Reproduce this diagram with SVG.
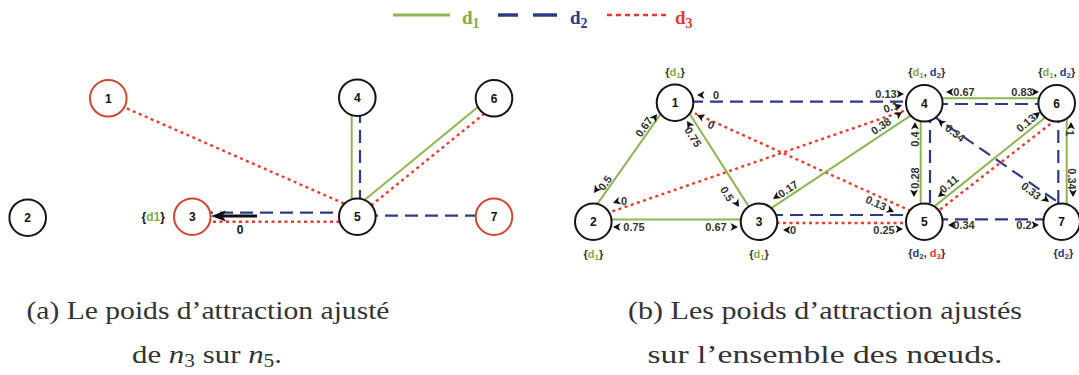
<svg xmlns="http://www.w3.org/2000/svg" xmlns:xlink="http://www.w3.org/1999/xlink" width="1079" height="375" viewBox="0 0 1079 375">
<style>
.g{stroke:#8DB652;stroke-width:2;fill:none}
.b{stroke:#2E3A87;stroke-width:2.2;stroke-dasharray:13 7;fill:none}
.r{stroke:#EE3B2B;stroke-width:2.4;stroke-dasharray:3 3.5;fill:none}
.nc{fill:#fff;stroke:#151515;stroke-width:2}
.nr{fill:#fff;stroke:#D2452F;stroke-width:2}
.nl{font-family:"Liberation Sans",Arial,sans-serif;font-weight:bold;font-size:12px;fill:#111;text-anchor:middle}
.el{font-family:"Liberation Sans",Arial,sans-serif;font-weight:bold;font-size:11px;fill:#333;text-anchor:middle}
.sl{font-family:"Liberation Sans",Arial,sans-serif;font-weight:bold;font-size:11px;fill:#333;text-anchor:middle}
.cap{font-family:"Liberation Serif","Times New Roman",serif;font-size:26px;fill:#333;text-anchor:middle}
.lg{font-family:"Liberation Serif","Times New Roman",serif;font-weight:bold;font-size:19px}
.cg{fill:#7FAE3E}.cb{fill:#2E3A87}.cr{fill:#E8392B}
</style>
<defs>
<path id="ah" d="M0,0 L-7.5,-4 L-5.5,0 L-7.5,4 Z" fill="#111"/>
</defs>
<rect width="1079" height="375" fill="#fff"/>

<!-- legend -->
<g id="legend">
<line x1="393" y1="15" x2="450" y2="15" stroke="#8DB652" stroke-width="3"/>
<text class="lg cg" x="462" y="24">d<tspan dy="4" font-size="14">1</tspan></text>
<line x1="498" y1="15" x2="518" y2="15" stroke="#2E3A87" stroke-width="3.5"/>
<line x1="533" y1="15" x2="557" y2="15" stroke="#2E3A87" stroke-width="3.5"/>
<text class="lg cb" x="570" y="24">d<tspan dy="4" font-size="14">2</tspan></text>
<line x1="607" y1="15" x2="667" y2="15" stroke="#E8392B" stroke-width="2.5" stroke-dasharray="5 4"/>
<text class="lg cr" x="675" y="24">d<tspan dy="4" font-size="14">3</tspan></text>
</g>

<!-- (a) connectors -->
<g id="a-connectors">
<line class="r" x1="115" y1="103.2" x2="350" y2="206.2"/>
<line class="b" x1="200" y1="212.7" x2="350" y2="212.7"/>
<line class="r" x1="200" y1="221.7" x2="350" y2="221.7"/>
<line class="g" x1="351.7" y1="110" x2="351.7" y2="205"/>
<line class="b" x1="360" y1="110" x2="360" y2="205"/>
<line class="g" x1="360" y1="203.8" x2="484" y2="101.9"/>
<line class="r" x1="366" y1="209.6" x2="488" y2="110.7"/>
<line class="b" x1="365" y1="215.7" x2="485" y2="215.7"/>
<line x1="222" y1="216" x2="257" y2="216" stroke="#111" stroke-width="3"/>
<path d="M211,216 L226,210.5 L222.5,216 L226,221.5 Z" fill="#111"/>
<text class="nl" x="240" y="234">0</text>
</g>

<!-- (a) nodes -->
<g id="a-n1"><circle class="nr" cx="108.3" cy="98.3" r="18.3"/><text class="nl" x="108.3" y="102.5">1</text></g>
<g id="a-n2"><circle class="nc" cx="27.7" cy="217.7" r="18.3"/><text class="nl" x="27.7" y="222">2</text></g>
<g id="a-n3"><circle class="nr" cx="192.3" cy="216.7" r="18.3"/><text class="nl" x="192.3" y="221">3</text>
<text class="nl" x="153.3" y="221" fill="#333">{<tspan class="cg">d1</tspan>}</text></g>
<g id="a-n4"><circle class="nc" cx="357.3" cy="97.7" r="18.3"/><text class="nl" x="357.3" y="102">4</text></g>
<g id="a-n5"><circle class="nc" cx="357.3" cy="216.7" r="18.3"/><text class="nl" x="357.3" y="221">5</text></g>
<g id="a-n6"><circle class="nc" cx="494" cy="98.3" r="18.3"/><text class="nl" x="494" y="102.5">6</text></g>
<g id="a-n7"><circle class="nr" cx="494" cy="216.7" r="18.3"/><text class="nl" x="494" y="221">7</text></g>

<!-- (b) connectors -->
<g id="b-connectors">
<line class="g" x1="596" y1="205.8" x2="665" y2="107.9"/>
<line class="g" x1="684" y1="105" x2="752" y2="211.6"/>
<line class="g" x1="600" y1="219.5" x2="752" y2="219.5"/>
<line class="b" x1="690" y1="101.7" x2="910" y2="101.7"/>
<line class="r" x1="683" y1="107.9" x2="915" y2="212.8"/>
<line class="r" x1="600" y1="215.7" x2="912" y2="108"/>
<line class="g" x1="765" y1="212.3" x2="915" y2="112.7"/>
<line class="b" x1="770" y1="215" x2="912" y2="215"/>
<line class="r" x1="770" y1="223" x2="912" y2="223"/>
<line class="g" x1="920.7" y1="110" x2="920.7" y2="215"/>
<line class="b" x1="930" y1="110" x2="930" y2="215"/>
<line class="g" x1="935" y1="98.3" x2="1045" y2="98.3"/>
<line class="b" x1="935" y1="104" x2="1045" y2="104"/>
<line class="b" x1="930" y1="113.7" x2="1062" y2="204.9"/>
<line class="g" x1="932" y1="208.4" x2="1052" y2="112"/>
<line class="r" x1="935" y1="213.5" x2="1058" y2="118"/>
<line class="b" x1="935" y1="219.3" x2="1050" y2="219.3"/>
<line class="b" x1="1058.3" y1="110" x2="1058.3" y2="215"/>
<line class="g" x1="1066.7" y1="110" x2="1066.7" y2="215"/>
</g>

<!-- (b) edge labels -->
<g id="b-labels">
<use href="#ah" transform="translate(657,114) rotate(-55)"/>
<text class="el" dy=".35em" transform="translate(644,127) rotate(-55)">0.67</text>
<use href="#ah" transform="translate(594,193) rotate(125)"/>
<text class="el" dy=".35em" transform="translate(605,183) rotate(-55)">0.5</text>
<use href="#ah" transform="translate(687,121) rotate(-122)"/>
<text class="el" dy=".35em" transform="translate(693,137) rotate(58)">0.75</text>
<use href="#ah" transform="translate(739,207) rotate(58)"/>
<text class="el" dy=".35em" transform="translate(727,194) rotate(58)">0.5</text>
<use href="#ah" transform="translate(697,95) rotate(180)"/>
<text class="el" dy=".35em" x="716" y="95">0</text>
<use href="#ah" transform="translate(904,94)"/>
<text class="el" dy=".35em" x="886" y="94">0.13</text>
<use href="#ah" transform="translate(697,115) rotate(-156)"/>
<text class="el" dy=".35em" transform="translate(711,125) rotate(24)">0</text>
<use href="#ah" transform="translate(894,212) rotate(24)"/>
<text class="el" dy=".35em" transform="translate(876,203) rotate(24)">0.13</text>
<use href="#ah" transform="translate(613,227) rotate(180)"/>
<text class="el" dy=".35em" x="634" y="227">0.75</text>
<use href="#ah" transform="translate(738,227)"/>
<text class="el" dy=".35em" x="716" y="227">0.67</text>
<use href="#ah" transform="translate(613,203) rotate(161)"/>
<text class="el" dy=".35em" x="624" y="201">0</text>
<use href="#ah" transform="translate(902,105) rotate(-19)"/>
<text class="el" dy=".35em" transform="translate(891,107) rotate(-19)">0.1</text>
<use href="#ah" transform="translate(773,199) rotate(146)"/>
<text class="el" dy=".35em" transform="translate(788,189) rotate(-34)">0.17</text>
<use href="#ah" transform="translate(902,112) rotate(-34)"/>
<text class="el" dy=".35em" transform="translate(881,126) rotate(-34)">0.38</text>
<use href="#ah" transform="translate(783,230) rotate(180)"/>
<text class="el" dy=".35em" x="793" y="230">0</text>
<use href="#ah" transform="translate(903,229)"/>
<text class="el" dy=".35em" x="884" y="230">0.25</text>
<use href="#ah" transform="translate(915,122) rotate(-90)"/>
<text class="el" dy=".35em" transform="translate(915,139) rotate(-90)">0.4</text>
<use href="#ah" transform="translate(914,197) rotate(90)"/>
<text class="el" dy=".35em" transform="translate(915,178) rotate(-90)">0.28</text>
<use href="#ah" transform="translate(946,92) rotate(180)"/>
<text class="el" dy=".35em" x="964" y="92">0.67</text>
<use href="#ah" transform="translate(1039,92)"/>
<text class="el" dy=".35em" x="1022" y="92">0.83</text>
<use href="#ah" transform="translate(938,120) rotate(-142)"/>
<text class="el" dy=".35em" transform="translate(955,133) rotate(38)">0.34</text>
<use href="#ah" transform="translate(1049,202) rotate(38)"/>
<text class="el" dy=".35em" transform="translate(1031,191) rotate(38)">0.33</text>
<use href="#ah" transform="translate(938,197) rotate(140)"/>
<text class="el" dy=".35em" transform="translate(949,184) rotate(-40)">0.11</text>
<use href="#ah" transform="translate(1040,112) rotate(-40)"/>
<text class="el" dy=".35em" transform="translate(1026,123) rotate(-40)">0.13</text>
<use href="#ah" transform="translate(948,225) rotate(180)"/>
<text class="el" dy=".35em" x="964" y="225">0.34</text>
<use href="#ah" transform="translate(1039,225)"/>
<text class="el" dy=".35em" x="1024" y="225">0.2</text>
<use href="#ah" transform="translate(1071,122) rotate(-90)"/>
<text class="el" dy=".35em" transform="translate(1070,133) rotate(90)">1</text>
<use href="#ah" transform="translate(1073,197) rotate(90)"/>
<text class="el" dy=".35em" transform="translate(1072,179) rotate(90)">0.34</text>
</g>

<!-- (b) nodes -->
<g id="b-n1"><circle class="nc" cx="675" cy="102.7" r="18.3"/><text class="nl" x="675" y="107">1</text>
<text class="sl" x="675" y="76">{<tspan class="cg">d<tspan dy="2" font-size="8">1</tspan></tspan><tspan dy="-2">}</tspan></text></g>
<g id="b-n2"><circle class="nc" cx="593.3" cy="221.7" r="18.3"/><text class="nl" x="593.3" y="226">2</text>
<text class="sl" x="593.3" y="258">{<tspan class="cg">d<tspan dy="2" font-size="8">1</tspan></tspan><tspan dy="-2">}</tspan></text></g>
<g id="b-n3"><circle class="nc" cx="759" cy="221.7" r="18.3"/><text class="nl" x="759" y="226">3</text>
<text class="sl" x="759" y="258">{<tspan class="cg">d<tspan dy="2" font-size="8">1</tspan></tspan><tspan dy="-2">}</tspan></text></g>
<g id="b-n4"><circle class="nc" cx="924.3" cy="103.3" r="18.3"/><text class="nl" x="924.3" y="107.5">4</text>
<text class="sl" x="926.7" y="76">{<tspan class="cg">d<tspan dy="2" font-size="8">1</tspan></tspan><tspan dy="-2">, </tspan><tspan class="cb">d<tspan dy="2" font-size="8">2</tspan></tspan><tspan dy="-2">}</tspan></text></g>
<g id="b-n5"><circle class="nc" cx="924.3" cy="221.7" r="18.3"/><text class="nl" x="924.3" y="226">5</text>
<text class="sl" x="926.7" y="256.5">{<tspan class="cb">d<tspan dy="2" font-size="8">2</tspan></tspan><tspan dy="-2">, </tspan><tspan class="cr">d<tspan dy="2" font-size="8">3</tspan></tspan><tspan dy="-2">}</tspan></text></g>
<g id="b-n6"><circle class="nc" cx="1056.7" cy="103.3" r="18.3"/><text class="nl" x="1056.7" y="107.5">6</text>
<text class="sl" x="1056.7" y="76">{<tspan class="cg">d<tspan dy="2" font-size="8">1</tspan></tspan><tspan dy="-2">, </tspan><tspan class="cb">d<tspan dy="2" font-size="8">2</tspan></tspan><tspan dy="-2">}</tspan></text></g>
<g id="b-n7"><circle class="nc" cx="1061.7" cy="221.7" r="18.3"/><text class="nl" x="1061.7" y="226">7</text>
<text class="sl" x="1063.3" y="256.5">{<tspan class="cb">d<tspan dy="2" font-size="8">2</tspan></tspan><tspan dy="-2">}</tspan></text></g>

<!-- captions -->
<g id="captions">
<text class="cap" x="208" y="319" textLength="363" lengthAdjust="spacingAndGlyphs">(a) Le poids d’attraction ajusté</text>
<text class="cap" x="207" y="363" textLength="150" lengthAdjust="spacingAndGlyphs">de <tspan font-style="italic">n</tspan><tspan dy="4" font-size="18">3</tspan><tspan dy="-4"> sur </tspan><tspan font-style="italic">n</tspan><tspan dy="4" font-size="18">5</tspan><tspan dy="-4">.</tspan></text>
<text class="cap" x="825" y="319" textLength="394" lengthAdjust="spacingAndGlyphs">(b) Les poids d’attraction ajustés</text>
<text class="cap" x="825" y="363" textLength="355" lengthAdjust="spacingAndGlyphs">sur l’ensemble des nœuds.</text>
</g>
</svg>
